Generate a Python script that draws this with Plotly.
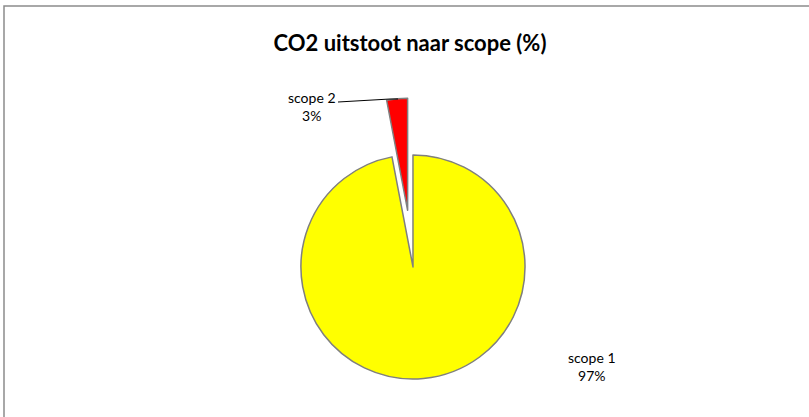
import plotly.graph_objects as go

# ---- data ----
labels = ["scope 1", "scope 2"]
values = [97, 3]
colors = ["#FFFF00", "#FF0000"]
title_text = "CO2 uitstoot naar scope (%)"

W, H = 809, 417


def px(x):
    return x / W


def py(y):
    return 1 - y / H


# pie geometry (pixels in the screenshot)
cx, cy, half = 410.3, 238.6, 140.5
pull = 0.254

fig = go.Figure(
    go.Pie(
        labels=labels,
        values=values,
        sort=False,
        direction="clockwise",
        rotation=0,
        pull=[pull, pull],
        marker=dict(colors=colors, line=dict(color="#7f7f7f", width=1.5)),
        textinfo="none",
        showlegend=False,
        domain=dict(
            x=[px(cx - 200), px(cx + 200)],
            y=[py(cy + half), py(cy - half)],
        ),
    )
)

total = sum(values)
pct = [f"{round(v / total * 100)}%" for v in values]

font = dict(family="Lato, 'Open Sans', sans-serif", size=14, color="#000000")

# labels
fig.add_annotation(x=px(592), y=py(366), xref="paper", yref="paper",
                   text=f"{labels[0]}<br>{pct[0]}", showarrow=False,
                   font=font, align="center", xanchor="center", yanchor="middle")
fig.add_annotation(x=px(312), y=py(107), xref="paper", yref="paper",
                   text=f"{labels[1]}<br>{pct[1]}", showarrow=False,
                   font=font, align="center", xanchor="center", yanchor="middle")

# leader line for scope 2
fig.add_shape(type="path", xref="paper", yref="paper",
              path=f"M {px(338)} {py(102)} L {px(390)} {py(99)} L {px(398)} {py(99)}",
              line=dict(color="#000000", width=1))

# chart border
fig.add_shape(type="rect", xref="paper", yref="paper",
              x0=px(4), y0=py(440), x1=px(830), y1=py(6),
              line=dict(color="#8c8c8c", width=1.5), fillcolor="rgba(0,0,0,0)")

fig.update_layout(
    width=W, height=H,
    margin=dict(l=0, r=0, t=0, b=0),
    paper_bgcolor="white",
    plot_bgcolor="white",
    title=dict(text=f"<b>{title_text}</b>", x=px(410), xanchor="center",
               y=py(43), yref="container", yanchor="middle",
               font=dict(family="Lato, 'Open Sans', sans-serif", size=22, color="#000000")),
)

fig.write_html("out.html", config={"displayModeBar": False},
               post_script="document.body.style.margin='0px';")
